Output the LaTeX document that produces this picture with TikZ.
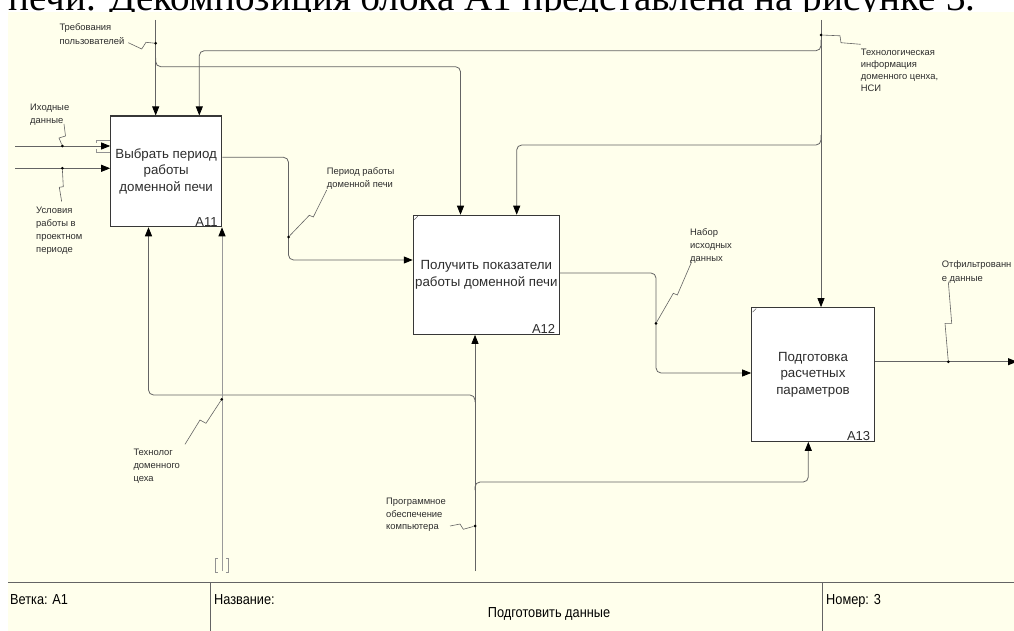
\documentclass[tikz,border=0pt]{standalone}
\usepackage{graphicx}
\usepackage{fontspec}
\setmainfont{Liberation Sans}
\newfontfamily\bodyserif{Liberation Serif}
\newfontfamily\narrowsans[FakeStretch=0.88]{Liberation Sans}
\usetikzlibrary{arrows.meta,calc}

\definecolor{paper}{RGB}{255,255,236}
\definecolor{wire}{RGB}{100,100,100}
\definecolor{framecol}{RGB}{55,55,55}
\definecolor{inkgray}{RGB}{45,45,45}

\tikzset{
  fnbox/.style={draw=framecol, line width=1.1pt, fill=white, inner sep=0pt,
    align=center, font=\fontsize{13.3}{16.5}\selectfont, text=inkgray},
  boxid/.style={anchor=south east, inner xsep=4.5pt, inner ysep=1pt,
    font=\fontsize{13}{13}\selectfont, text=inkgray},
  flow/.style={draw=wire, line width=0.8pt, rounded corners=5pt},
  tip/.style={-{Triangle[length=9pt,width=7pt,color=black]}},
  squig/.style={draw=wire, line width=0.6pt},
  tunnel/.style={draw=wire!70, line width=0.6pt},
  % multi-line labels: the base anchor sits on the last line
  lbl/.style={anchor=base west, inner sep=0pt, align=left,
    font=\fontsize{9.4}{13}\selectfont, text=inkgray},
  jdot/.style={fill=black, circle, inner sep=0pt, minimum size=3pt},
  cell/.style={anchor=base west, inner sep=0pt, font=\narrowsans\fontsize{14.5}{16}\selectfont, text=black}
}

\begin{document}
\begin{tikzpicture}[x=1pt,y=-1pt]
\useasboundingbox (0,0) rectangle (1014,631);
\clip (0,0) rectangle (1014,631);

% running text of the page above the diagram
\node[anchor=base west, inner sep=0pt] (intro) at (8,11)
  {\resizebox{967pt}{!}{\bodyserif печи. Декомпозиция блока А1 представлена на рисунке 3.}};

% diagram sheet
\fill[paper] (8,12) rectangle (1014,631);

% title block
\draw[wire, line width=0.8pt] (8,582.7) -- (1014,582.7);
\draw[wire, line width=0.8pt] (210,582.7) -- (210,631);
\draw[wire, line width=0.8pt] (822,582.7) -- (822,631);
\node[cell] (branchcell) at (10,604) {Ветка: A1};
\node[cell] (namecell) at (214,604) {Название:};
\node[cell] (numcell) at (826,604) {Номер: 3};
\node[cell, anchor=base] (titlecell) at (549,617) {Подготовить данные};

% activity boxes
\node[fnbox, minimum width=111pt, minimum height=110.7pt] (A11) at (166.2,171.35)
  {Выбрать период\\работы\\доменной печи};
\node[fnbox, minimum width=146pt, minimum height=119pt] (A12) at (486.3,274.8)
  {Получить показатели\\работы доменной печи};
\node[fnbox, minimum width=122.6pt, minimum height=133.6pt] (A13) at (813,374.5)
  {Подготовка\\расчетных\\параметров};
\node[boxid] (idA11) at (A11.south east) {A11};
\node[boxid] (idA12) at (A12.south east) {A12};
\node[boxid] (idA13) at (A13.south east) {A13};
\draw[wire, line width=0.5pt] ([shift={(1.5pt,-5pt)}]A12.north west) -- ([shift={(5pt,-1.5pt)}]A12.north west);
\draw[wire, line width=0.5pt] ([shift={(1.5pt,-5pt)}]A13.north west) -- ([shift={(5pt,-1.5pt)}]A13.north west);

% controls entering from the top
\coordinate (reqTop) at (155.7,20);
\coordinate (techTop) at (821,20);
\draw[flow, tip] (reqTop) -- (A11.north -| reqTop);
\draw[flow, tip] (155.7,58) -- (155.7,66.7) -- (460.5,66.7) -- (A12.north -| 460.5,0);
\draw[flow, tip] (techTop) -- (A13.north -| techTop);
\draw[flow, tip] (821,40) -- (821,50.7) -- (199.3,50.7) -- (A11.north -| 199.3,0);
\draw[flow, tip] (821,135) -- (821,145) -- (516.7,145) -- (A12.north -| 516.7,0);

% inputs from the left
\coordinate (inA) at (15,146);
\coordinate (inB) at (15,168.3);
\draw[flow, tip] (inA) -- (A11.west |- inA);
\draw[flow, tip] (inB) -- (A11.west |- inB);
\draw[tunnel] (A11.west |- 0,140) -- (96,140) -- (96,143.5);
\draw[tunnel] (96,149) -- (96,152.7) -- (A11.west |- 0,152.7);

% outputs passed between the boxes
\draw[flow, tip] (A11.east |- 0,157.3) -- (288.5,157.3) -- (288.5,260) -- (A12.west |- 0,260);
\draw[flow, tip] (A12.east |- 0,273) -- (656,273) -- (656,373) -- (A13.west |- 0,373);
\coordinate (outEnd) at (1017,361.7);
\draw[flow, tip] (A13.east |- outEnd) -- (outEnd);

% mechanisms entering from the bottom
\coordinate (progBot) at (475,571);
\coordinate (techBot) at (222,571);
\draw[flow, tip] (progBot) -- (A12.south -| progBot);
\draw[flow, tip] (475,490) -- (475,482) -- (808.3,482) -- (A13.south -| 808.3,0);
\draw[flow, tip] (475,402) -- (475,395) -- (148.5,395) -- (A11.south -| 148.5,0);
\draw[flow, tip, draw=wire!65] (techBot) -- (A11.south -| techBot);
\draw[tunnel] (217.5,558) -- (215,558) -- (215,572) -- (217.5,572);
\draw[tunnel] (226,558) -- (228.5,558) -- (228.5,572) -- (226,572);

% arrow labels with their leader squiggles
\node[lbl, font=\fontsize{9.4}{14}\selectfont] (lReq) at (59.3,45) {Требования\\пользователей};
\node[jdot] (dReq) at (155.7,43.3) {};
\draw[squig] (dReq) -- (146,42.3) -- (141.7,49) -- (128.3,42.7);

\node[lbl, font=\fontsize{9.4}{12}\selectfont] (lTech) at (860.7,91.7) {Технологическая\\информация\\доменного ценха,\\НСИ};
\node[jdot] (dTech) at (821,35) {};
\draw[squig] (dTech) -- (840,35.8) -- (841,42.7) -- (860.7,44.3);

\node[lbl] (lIn) at (30,123.7) {Иходные\\данные};
\node[jdot] (dIn) at (62.3,146) {};
\draw[squig] (dIn) -- (59,138) -- (65.5,136) -- (64,124);

\node[lbl] (lCond) at (36,252) {Условия\\работы в\\проектном\\периоде};
\node[jdot] (dCond) at (62.3,168.3) {};
\draw[squig] (dCond) -- (63.3,186.7) -- (59.3,187.3) -- (61.7,201.7);

\node[lbl] (lPer) at (326.7,187.3) {Период работы\\доменной печи};
\node[jdot] (dPer) at (288.5,237) {};
\draw[squig] (dPer) -- (309.3,215.3) -- (313.3,217) -- (326.7,190);

\node[lbl] (lSet) at (690,261.3) {Набор\\исходных\\данных};
\node[jdot] (dSet) at (656,323.3) {};
\draw[squig] (dSet) -- (673.3,293.3) -- (677.3,295) -- (691.7,261.7);

\node[lbl, font=\fontsize{9.4}{14}\selectfont] (lOut) at (941.7,281) {Отфильтрованн\\е данные};
\node[jdot] (dOut) at (948.3,361.7) {};
\draw[squig] (dOut) -- (945,323.3) -- (951.7,323.3) -- (948.3,281.7);

\node[lbl] (lTechn) at (133.3,481.3) {Технолог\\доменного\\цеха};
\node[jdot] (dTechn) at (221.7,399.3) {};
\draw[squig] (dTechn) -- (206,423.3) -- (200,420) -- (185,444.3);

\node[lbl, font=\fontsize{9.4}{12.5}\selectfont] (lSoft) at (386,529.7) {Программное\\обеспечение\\компьютера};
\node[jdot] (dSoft) at (475,526) {};
\draw[squig] (dSoft) -- (463.3,529.3) -- (460,524) -- (450,526);
\end{tikzpicture}
\end{document}
